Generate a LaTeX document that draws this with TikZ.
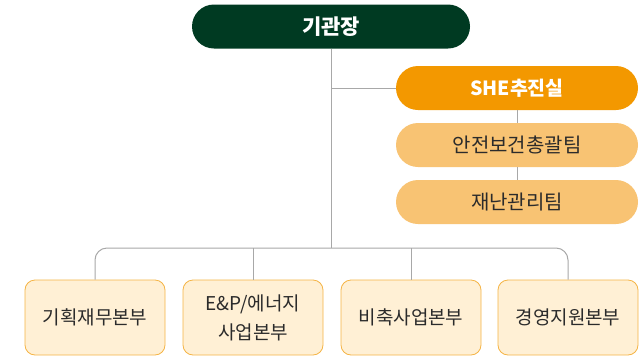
\documentclass[tikz,border=0pt]{standalone}
\usepackage{fontspec}
\setmainfont{Noto Sans CJK KR}
\definecolor{headgreen}{HTML}{003A22}
\definecolor{sheorange}{HTML}{F39800}
\definecolor{teamorange}{HTML}{F8C373}
\definecolor{divfill}{HTML}{FFF0D5}
\definecolor{divline}{HTML}{F5B445}
\definecolor{conn}{HTML}{A8A8A8}
\definecolor{txt}{HTML}{2B2B2B}
\begin{document}
\begin{tikzpicture}[x=1pt,y=-1pt,
  pill/.style={rounded corners=22pt,minimum height=44pt,inner sep=0pt},
  head/.style={pill,fill=headgreen,text=white,minimum width=278pt,font=\fontsize{21}{24}\selectfont\bfseries},
  she/.style={pill,fill=sheorange,text=white,minimum width=242pt,font=\fontsize{19.5}{24}\selectfont\bfseries},
  team/.style={pill,fill=teamorange,text=txt,minimum width=242pt,font=\fontsize{20}{24}\selectfont},
  div/.style={draw=divline,line width=0.8pt,fill=divfill,rounded corners=10pt,minimum width=140pt,minimum height=75pt,inner sep=0pt,align=center,text=txt,font=\fontsize{19}{29}\selectfont},
  link/.style={draw=conn,line width=1pt}]
\useasboundingbox (0,0) rectangle (641,357);
\node[head] (ceo) at (331,26.5) {기관장};
\node[she] (she) at (517,88) {SHE추진실};
\node[team] (safety) at (517,145) {안전보건총괄팀};
\node[team] (disaster) at (517,202) {재난관리팀};
\node[div] (d1) at (95,317.5) {기획재무본부};
\node[div] (d2) at (253,317.5) {E\&P/에너지\\사업본부};
\node[div] (d3) at (411,317.5) {비축사업본부};
\node[div] (d4) at (568,317.5) {경영지원본부};
\coordinate (bus) at (331,248);
\coordinate (sheb) at (331,88);
\draw[link] (ceo.south) -- (bus);
\draw[link] (sheb) -- (she.west);
\draw[link] (she.south) -- (safety.north);
\draw[link] (safety.south) -- (disaster.north);
\draw[link,rounded corners=12pt] (d1.north) |- (bus) -| (d4.north);
\draw[link] (d2.north) -- (d2.north |- bus);
\draw[link] (d3.north) -- (d3.north |- bus);
\end{tikzpicture}
\end{document}
